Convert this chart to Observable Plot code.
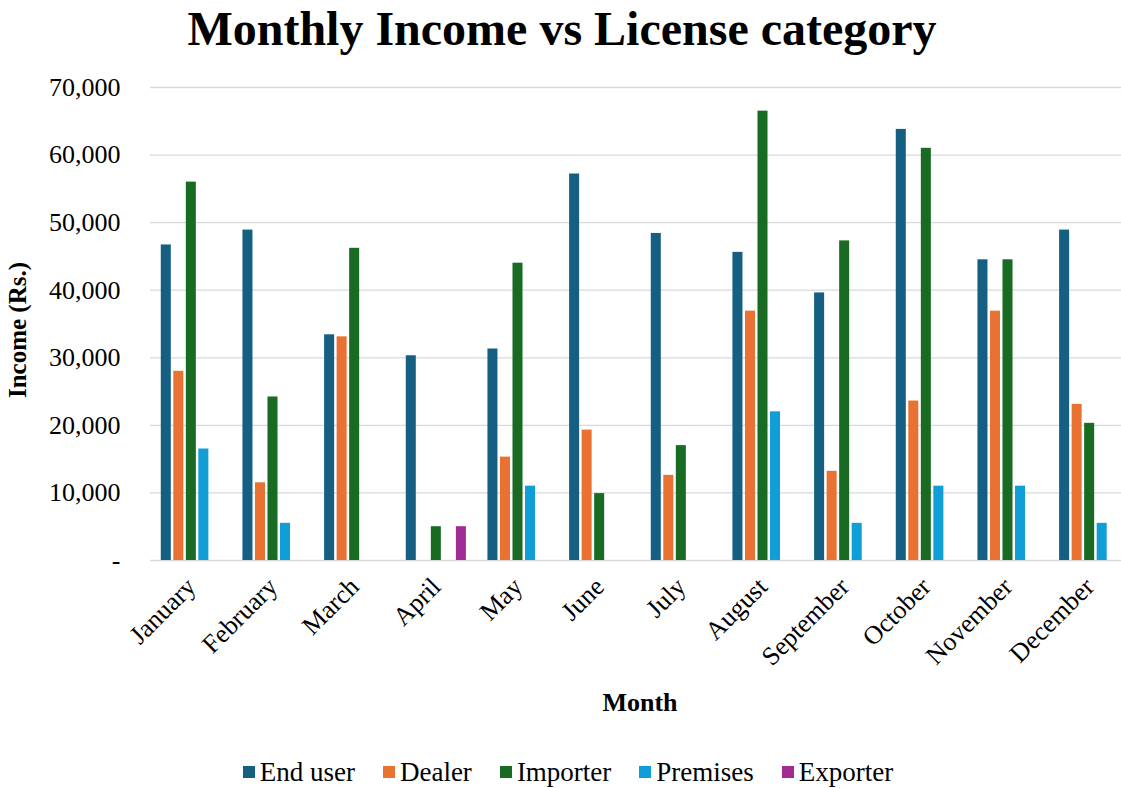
<!DOCTYPE html>
<html><head><meta charset="utf-8">
<script src="https://cdn.jsdelivr.net/npm/d3@7"></script>
<script src="https://cdn.jsdelivr.net/npm/@observablehq/plot@0.6"></script>
<style>
html,body{margin:0;padding:0;background:#fff;overflow:hidden;width:1121px;height:788px;}
#wrap{position:relative;width:1121px;height:788px;font-family:"Liberation Serif","Times New Roman",serif;color:#000;}
#title{position:absolute;left:0;top:0;width:1124px;height:60px;text-align:center;font-weight:bold;font-size:48px;line-height:58px;white-space:nowrap;}
#chart{position:absolute;left:0;top:60px;}
#xtitle{position:absolute;left:540px;width:200px;top:686px;text-align:center;font-weight:bold;font-size:26px;line-height:34px;}
#ytitle{position:absolute;left:18px;top:330px;transform:translate(-50%,-50%) rotate(-90deg);font-weight:bold;font-size:25px;line-height:30px;white-space:nowrap;}
#legend{position:absolute;left:0;width:1136px;top:756px;height:32px;display:flex;justify-content:center;align-items:center;font-size:27px;font-family:"Liberation Serif","Times New Roman",serif;}
.item{display:flex;align-items:center;margin:0 14px;}
.sw{width:12px;height:12px;margin-right:5px;}
</style>
</head><body>
<div id="wrap">
  <div id="title"></div>
  <div id="chart"></div>
  <div id="xtitle"></div>
  <div id="ytitle"></div>
  <div id="legend"></div>
</div>
<script>
const titleText = "Monthly Income vs License category";
const xTitle = "Month";
const yTitle = "Income (Rs.)";
const months = ["January","February","March","April","May","June","July","August","September","October","November","December"];
const categories = ["End user","Dealer","Importer","Premises","Exporter"];
const colors = ["#156082","#E97132","#196B24","#0F9ED5","#A02B93"];
const endUser  = [46700, 48900, 33400, 30300, 31300, 57200, 48400, 45600, 39600, 63800, 44500, 48900];
const dealer   = [28000, 11500, 33100,     0, 15300, 19300, 12600, 36900, 13200, 23600, 36900, 23100];
const importer = [56000, 24200, 46200,  5000, 44000,  9900, 17000, 66500, 47300, 61000, 44500, 20300];
const premises = [16500,  5500,     0,     0, 11000,     0,     0, 22000,  5500, 11000, 11000,  5500];
const exporter = [    0,     0,     0,  5000,     0,     0,     0,     0,     0,     0,     0,     0];
const yTicks = [0, 10000, 20000, 30000, 40000, 50000, 60000, 70000];

const series = [endUser, dealer, importer, premises, exporter];
const data = [];
months.forEach((m, i) => categories.forEach((c, j) => {
  const v = series[j][i];
  if (v > 0) data.push({month: m, category: c, value: v});
}));

document.getElementById("title").textContent = titleText;
document.getElementById("xtitle").textContent = xTitle;
document.getElementById("ytitle").textContent = yTitle;

const chart = Plot.plot({
  width: 1130, height: 680,
  marginLeft: 150, marginRight: 0, marginTop: 27, marginBottom: 180,
  style: {fontFamily: "'Liberation Serif', 'Times New Roman', serif", fontSize: "26px", color: "#000", maxWidth: "none", background: "transparent", overflow: "visible"},
  fx: {domain: months, padding: 0, round: false, label: null},
  x: {domain: categories, paddingInner: 0.2, paddingOuter: 0.86, round: false, axis: null},
  y: {domain: [0, 70000], label: null},
  color: {domain: categories, range: colors},
  marks: [
    Plot.gridY(yTicks, {stroke: "#d9d9d9", strokeOpacity: 1, strokeWidth: 1.3}),
    Plot.barY(data, {fx: "month", x: "category", y: "value", fill: "category"}),
    Plot.axisY(yTicks, {tickSize: 0, tickPadding: 30, tickFormat: d => d === 0 ? "-" : d3.format(",")(d), label: null}),
    Plot.axisFx({anchor: "bottom", tickRotate: -45, tickSize: 0, tickPadding: 22, label: null})
  ]
});
document.getElementById("chart").appendChild(chart);

const legend = document.getElementById("legend");
categories.forEach((c, i) => {
  const it = document.createElement("div"); it.className = "item";
  const sw = document.createElement("div"); sw.className = "sw"; sw.style.background = colors[i];
  const tx = document.createElement("span"); tx.textContent = c;
  it.appendChild(sw); it.appendChild(tx); legend.appendChild(it);
});
</script>
</body></html>
